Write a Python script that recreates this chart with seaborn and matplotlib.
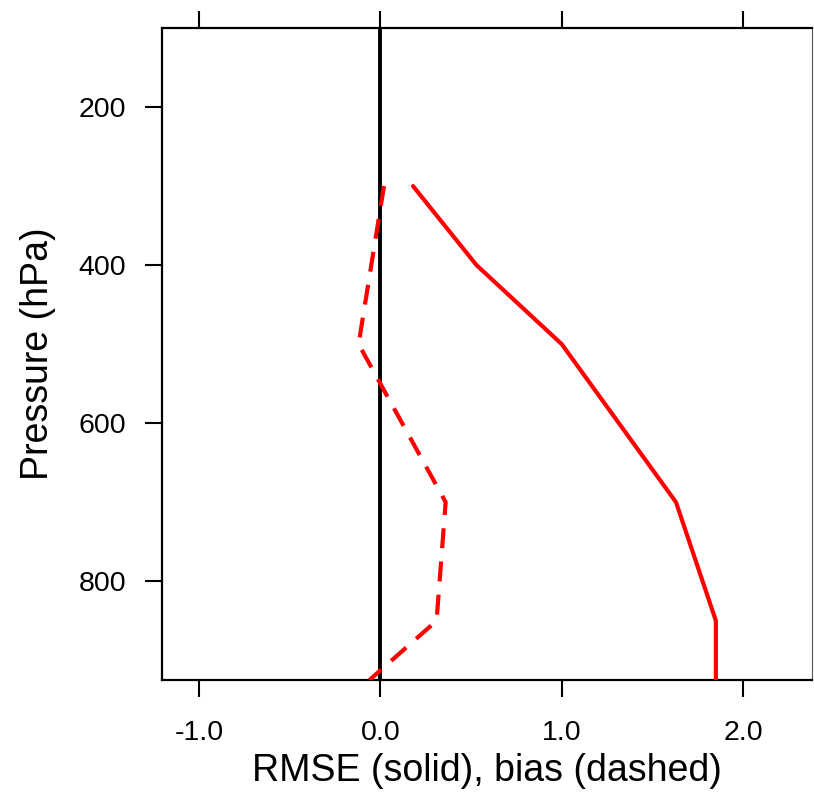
import matplotlib
matplotlib.use("Agg")
import matplotlib.pyplot as plt
import seaborn as sns
import pandas as pd

# pressure levels (hPa)
pressure = [300, 400, 500, 700, 850, 925]
rmse = [0.18, 0.53, 1.00, 1.63, 1.85, 1.85]
bias = [0.02, -0.05, -0.12, 0.36, 0.31, -0.06]

xticks = [-1.0, 0.0, 1.0, 2.0]
yticks = [200, 400, 600, 800]

df = pd.DataFrame({"pressure": pressure, "rmse": rmse, "bias": bias})

sns.set_style("white")
plt.rcParams["font.family"] = ["Liberation Sans", "DejaVu Sans"]

fig = plt.figure(figsize=(8.14, 7.99), dpi=100)
ax = fig.add_axes([162 / 814, 119 / 799, 650 / 814, 652 / 799])

ax.axvline(0, color="black", lw=2.8, zorder=1)
sns.lineplot(data=df, x="rmse", y="pressure", orient="y", sort=False,
             estimator=None, color="red", lw=3, ax=ax, zorder=3)
sns.lineplot(data=df, x="bias", y="pressure", orient="y", sort=False,
             estimator=None, color="red", lw=3, ax=ax, zorder=3,
             dashes=False)
ax.lines[-1].set_dashes([4.8, 3.2])

ax.set_xlim(-1.204, 2.38)
ax.set_ylim(925, 100)
ax.set_xticks(xticks)
ax.set_xticklabels([f"{v:.1f}" for v in xticks])
ax.set_yticks(yticks)

for s in ax.spines.values():
    s.set_color("black")
    s.set_linewidth(1.6)
ax.spines["right"].set_linewidth(0.8)
ax.spines["right"].set_color("#555555")

ax.tick_params(axis="both", direction="out", length=12, width=1.5,
               labelsize=20.5, color="black", labelcolor="black")
ax.tick_params(axis="x", top=True, bottom=True, pad=17)
ax.tick_params(axis="y", left=True, right=False, pad=14)

ax.set_xlabel("RMSE (solid), bias (dashed)", fontsize=27, labelpad=5,
              color="black")
ax.set_ylabel("Pressure (hPa)", fontsize=27, labelpad=16, color="black")

fig.savefig("out.png", dpi=100)
